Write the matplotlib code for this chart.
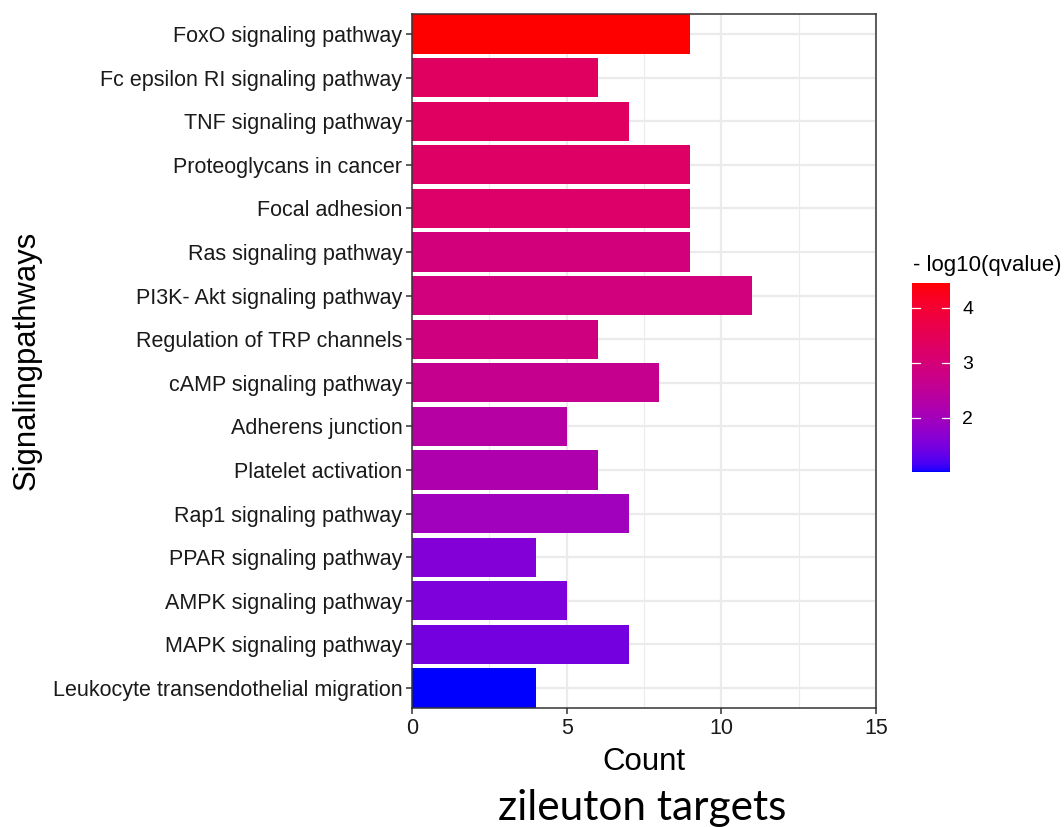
import numpy as np
import matplotlib
matplotlib.use("Agg")
import matplotlib.pyplot as plt
from matplotlib.colors import ListedColormap, Normalize
from matplotlib.cm import ScalarMappable

plt.rcParams['font.family'] = ['Liberation Sans', 'DejaVu Sans']

# data, top to bottom as drawn
pathways = ["FoxO signaling pathway", "Fc epsilon RI signaling pathway",
            "TNF signaling pathway", "Proteoglycans in cancer",
            "Focal adhesion", "Ras signaling pathway",
            "PI3K- Akt signaling pathway", "Regulation of TRP channels",
            "cAMP signaling pathway", "Adherens junction",
            "Platelet activation", "Rap1 signaling pathway",
            "PPAR signaling pathway", "AMPK signaling pathway",
            "MAPK signaling pathway", "Leukocyte transendothelial migration"]
counts = [9, 6, 7, 9, 9, 9, 11, 6, 8, 5, 6, 7, 4, 5, 7, 4]
neglog_q = [4.45, 3.35, 3.32, 3.27, 3.22, 2.95, 2.92, 2.87, 2.63, 2.32,
            2.19, 1.98, 1.60, 1.55, 1.47, 1.02]
cbar_ticks = [2, 3, 4]


# ggplot-like gradient blue -> red interpolated in Lab space
def srgb_to_lab(c):
    c = np.asarray(c, float)
    lin = np.where(c <= 0.04045, c / 12.92, ((c + 0.055) / 1.055) ** 2.4)
    M = np.array([[0.4124, 0.3576, 0.1805],
                  [0.2126, 0.7152, 0.0722],
                  [0.0193, 0.1192, 0.9505]])
    xyz = M @ lin / np.array([0.95047, 1.0, 1.08883])
    f = np.where(xyz > 0.008856, np.cbrt(xyz), 7.787 * xyz + 16 / 116)
    return np.array([116 * f[1] - 16, 500 * (f[0] - f[1]), 200 * (f[1] - f[2])])


def lab_to_srgb(lab):
    L, a, b = lab
    fy = (L + 16) / 116
    fx = fy + a / 500
    fz = fy - b / 200
    f = np.array([fx, fy, fz])
    xyz = np.where(f ** 3 > 0.008856, f ** 3, (f - 16 / 116) / 7.787)
    xyz = xyz * np.array([0.95047, 1.0, 1.08883])
    Minv = np.array([[3.2406, -1.5372, -0.4986],
                     [-0.9689, 1.8758, 0.0415],
                     [0.0557, -0.2040, 1.0570]])
    lin = Minv @ xyz
    c = np.where(lin <= 0.0031308, 12.92 * lin, 1.055 * np.clip(lin, 0, None) ** (1 / 2.4) - 0.055)
    return np.clip(c, 0, 1)


lab_lo = srgb_to_lab([0, 0, 1])
lab_hi = srgb_to_lab([1, 0, 0])
cols = [lab_to_srgb(lab_lo + t * (lab_hi - lab_lo)) for t in np.linspace(0, 1, 256)]
cmap = ListedColormap(cols)
norm = Normalize(vmin=min(neglog_q), vmax=max(neglog_q))

fig = plt.figure(figsize=(10.64, 8.27), dpi=100)
ax = fig.add_axes([412 / 1064, 1 - 708 / 827, 464 / 1064, 694 / 827])

n = len(pathways)
ypos = np.arange(n)[::-1]
ax.barh(ypos, counts, height=0.9, color=cmap(norm(neglog_q)), zorder=3)

ax.set_xlim(0, 15)
ax.set_ylim(-0.46, n - 1 + 0.46)
ax.set_xticks([0, 5, 10, 15])
ax.set_xticks([2.5, 7.5, 12.5], minor=True)
ax.set_yticks(ypos)
ax.set_yticklabels(pathways)
ax.grid(which='major', color='#EBEBEB', linewidth=1.6, zorder=0)
ax.grid(which='minor', axis='x', color='#EBEBEB', linewidth=0.8, zorder=0)
for s in ax.spines.values():
    s.set_color('#333333')
    s.set_linewidth(1.1)
    s.set_zorder(4)
ax.tick_params(which='major', length=4, width=1.1, color='#333333',
               labelsize=15.5, labelcolor='#1a1a1a', pad=3)
ax.tick_params(which='minor', length=0)
ax.set_xlabel("Count", fontsize=22.5, labelpad=6)
fig.text(27 / 1064, 1 - 360 / 827, "Signalingpathways", fontsize=22.3,
         rotation=90, ha='center', va='center')

# colour bar legend
cax = fig.add_axes([912 / 1064, 1 - 472 / 827, 38 / 1064, 189 / 827])
cb = fig.colorbar(ScalarMappable(norm=norm, cmap=cmap), cax=cax)
cb.outline.set_visible(False)
cb.set_ticks(cbar_ticks)
cax.tick_params(length=0, labelsize=14, pad=9)
for t in cbar_ticks:
    cax.plot([0, 0.2], [t, t], color='white', lw=0.9, transform=cax.get_yaxis_transform())
    cax.plot([0.8, 1.0], [t, t], color='white', lw=0.9, transform=cax.get_yaxis_transform())
fig.text(913 / 1064, 1 - 265 / 827, "- log10(qvalue)", fontsize=16, va='center', ha='left')

fig.text(642 / 1064, 1 - 820 / 827, "zileuton targets", fontsize=30.5,
         family=['Lato', 'DejaVu Sans'], ha='center', va='baseline')

fig.savefig("out.png", dpi=100)
